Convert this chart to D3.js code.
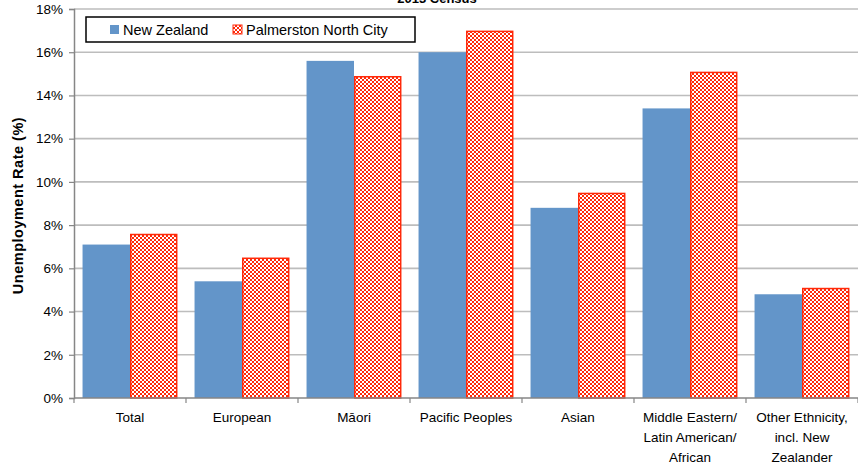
<!DOCTYPE html>
<html>
<head>
<meta charset="utf-8">
<script src="https://cdn.jsdelivr.net/npm/d3@7"></script>
<style>
  body { margin: 0; background: #fff; }
  text { font-family: "Liberation Sans", Arial, sans-serif; fill: #000; }
</style>
</head>
<body>
<div id="chart"></div>
<script>
const categories = [
  ["Total"],
  ["European"],
  ["Māori"],
  ["Pacific Peoples"],
  ["Asian"],
  ["Middle Eastern/", "Latin American/", "African"],
  ["Other Ethnicity,", "incl. New", "Zealander"]
];
const seriesNames = ["New Zealand", "Palmerston North City"];
const newZealand = [7.1, 5.4, 15.6, 16.0, 8.8, 13.4, 4.8];
const palmerstonNorth = [7.6, 6.5, 14.9, 17.0, 9.5, 15.1, 5.1];
const yTicks = [0, 2, 4, 6, 8, 10, 12, 14, 16, 18];

const W = 858, H = 464;
const margin = { top: 9, right: 0, bottom: 66, left: 74 };
const width = W - margin.left - margin.right;
const height = H - margin.top - margin.bottom;
const blue = "#6395c9";
const red = "#ff2a0a";

const svg = d3.select("#chart").append("svg")
  .attr("width", W).attr("height", H);

// checkered fill for the city series
const defs = svg.append("defs");
const pat = defs.append("pattern")
  .attr("id", "checks")
  .attr("patternUnits", "userSpaceOnUse")
  .attr("width", 4).attr("height", 4);
pat.append("rect").attr("width", 4).attr("height", 4).attr("fill", red);
pat.append("rect").attr("x", 0).attr("y", 0).attr("width", 2).attr("height", 2).attr("fill", "#fff");
pat.append("rect").attr("x", 2).attr("y", 2).attr("width", 2).attr("height", 2).attr("fill", "#fff");

const g = svg.append("g").attr("transform", `translate(${margin.left},${margin.top})`);

const labels = categories.map((d) => d.join(" "));
const x = d3.scaleBand().domain(labels).range([0, width]).paddingInner(0).paddingOuter(0);
const x1 = d3.scaleBand().domain(seriesNames).range([0, x.bandwidth()]).paddingInner(0).paddingOuter(0.18);
const y = d3.scaleLinear().domain([0, 18]).range([height, 0]);

// gridlines
g.append("g")
  .selectAll("line")
  .data(yTicks.slice(1))
  .enter()
  .append("line")
  .attr("x1", 0).attr("x2", width)
  .attr("y1", (d) => y(d)).attr("y2", (d) => y(d))
  .attr("stroke", "#bdbdbd").attr("stroke-width", 1.6);

// title (mostly cut off at the top)
svg.append("text")
  .attr("x", 437).attr("y", 3)
  .attr("text-anchor", "middle")
  .style("font-size", "13px").style("font-weight", "bold")
  .text("2013 Census");

// bars
const groups = g.selectAll(".grp")
  .data(labels)
  .enter()
  .append("g")
  .attr("class", "grp")
  .attr("transform", (d) => `translate(${x(d)},0)`);

groups.append("rect")
  .attr("x", x1("New Zealand"))
  .attr("width", x1.bandwidth())
  .attr("y", (d, i) => y(newZealand[i]))
  .attr("height", (d, i) => height - y(newZealand[i]))
  .attr("fill", blue);

groups.append("rect")
  .attr("x", x1("Palmerston North City") + 0.75)
  .attr("width", x1.bandwidth() - 1.5)
  .attr("y", (d, i) => y(palmerstonNorth[i]) + 0.75)
  .attr("height", (d, i) => height - y(palmerstonNorth[i]) - 0.75)
  .attr("fill", "url(#checks)")
  .attr("stroke", red)
  .attr("stroke-width", 1.5);

// y axis
const yAxis = g.append("g")
  .call(d3.axisLeft(y).tickValues(yTicks).tickFormat((d) => d + "%").tickSize(5).tickPadding(6));
yAxis.select(".domain").attr("stroke", "#868686").attr("stroke-width", 1.5);
yAxis.selectAll(".tick line").attr("stroke", "#868686").attr("stroke-width", 1.2);
yAxis.selectAll(".tick text")
  .style("font-size", "13.5px").style("font-family", "Liberation Sans, Arial, sans-serif").attr("fill", "#000");

// x axis
const xAxis = g.append("g").attr("transform", `translate(0,${height})`);
xAxis.append("line")
  .attr("x1", 0).attr("x2", width)
  .attr("stroke", "#868686").attr("stroke-width", 1.5);
xAxis.selectAll(".xt")
  .data(d3.range(labels.length + 1))
  .enter()
  .append("line")
  .attr("x1", (i) => (i < labels.length ? x(labels[i]) : width))
  .attr("x2", (i) => (i < labels.length ? x(labels[i]) : width))
  .attr("y1", 0).attr("y2", 5)
  .attr("stroke", "#868686").attr("stroke-width", 1.2);

const xl = xAxis.selectAll(".xl")
  .data(categories)
  .enter()
  .append("text")
  .attr("class", "xl")
  .attr("text-anchor", "middle")
  .attr("transform", (d, i) => `translate(${x(labels[i]) + x.bandwidth() / 2},0)`)
  .style("font-size", "13.5px");
xl.selectAll("tspan")
  .data((d) => d)
  .enter()
  .append("tspan")
  .attr("x", 0)
  .attr("y", (d, i) => 24 + i * 20)
  .text((d) => d);

// y axis title
svg.append("text")
  .attr("transform", `translate(23,${margin.top + height / 2 + 2}) rotate(-90)`)
  .attr("text-anchor", "middle")
  .style("font-size", "14.5px").style("font-weight", "bold")
  .style("letter-spacing", "0.5px")
  .text("Unemployment Rate (%)");

// legend
const legend = svg.append("g").attr("transform", "translate(86,17)");
legend.append("rect")
  .attr("width", 329).attr("height", 25)
  .attr("fill", "#fff").attr("stroke", "#000").attr("stroke-width", 1.5);
const items = [
  { name: seriesNames[0], fill: blue, x: 24, stroke: "none" },
  { name: seriesNames[1], fill: "url(#checks)", x: 147, stroke: red }
];
const li = legend.selectAll(".li")
  .data(items)
  .enter()
  .append("g")
  .attr("transform", (d) => `translate(${d.x},8)`);
li.append("rect")
  .attr("width", 9).attr("height", 9)
  .attr("fill", (d) => d.fill)
  .attr("stroke", (d) => d.stroke);
li.append("text")
  .attr("x", 13).attr("y", 10)
  .style("font-size", "14.5px")
  .text((d) => d.name);
</script>
</body>
</html>
